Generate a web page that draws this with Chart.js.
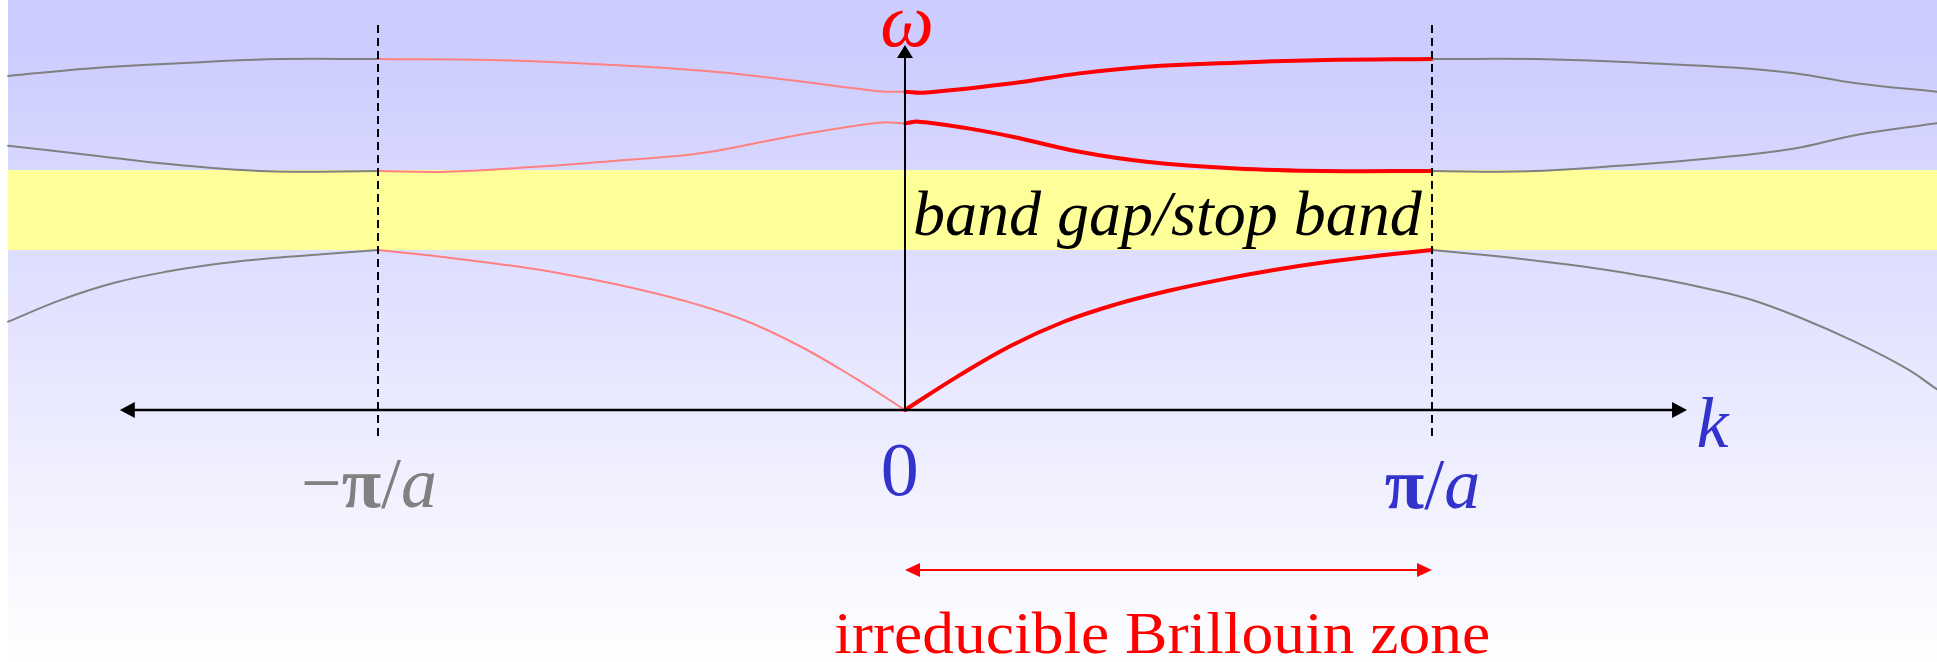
<!DOCTYPE html>
<html><head><meta charset="utf-8">
<script src="https://cdn.jsdelivr.net/npm/chart.js@4.4.1/dist/chart.umd.min.js"></script>
<style>html,body{margin:0;padding:0;background:#fff;overflow:hidden}canvas{display:block}</style>
</head><body>
<canvas id="c" width="1937" height="662" style="width:1937px;height:662px"></canvas>
<script>
// ---- Data (k in units of pi/a, omega in arbitrary units) ----
// Band 1 (lowest band)
const band1Red_k   = [0, 0.1, 0.2, 0.3, 0.4, 0.5, 0.6, 0.7, 0.8, 0.9, 1.0];
const band1Red_w   = [0, 0.21, 0.40, 0.55, 0.66, 0.745, 0.815, 0.875, 0.925, 0.965, 1.0];
const band1Pink_k  = [-1.0, -0.9, -0.8, -0.7, -0.6, -0.5, -0.4, -0.3, -0.2, -0.1, 0];
const band1Pink_w  = [1.0, 0.965, 0.925, 0.88, 0.82, 0.75, 0.665, 0.555, 0.40, 0.21, 0];
const band1GrayL_k = [-1.702, -1.6, -1.5, -1.4, -1.3, -1.2, -1.1, -1.0];
const band1GrayL_w = [0.552, 0.69, 0.795, 0.865, 0.915, 0.95, 0.975, 1.0];
const band1GrayR_k = [1.0, 1.1, 1.2, 1.3, 1.4, 1.5, 1.6, 1.7, 1.8, 1.9, 1.958];
const band1GrayR_w = [1.0, 0.968, 0.932, 0.89, 0.838, 0.775, 0.695, 0.575, 0.43, 0.26, 0.13];
// Band 2
const band2Red_k   = [0, 0.026, 0.12, 0.204, 0.331, 0.458, 0.628, 0.797, 1.0];
const band2Red_w   = [1.792, 1.802, 1.76, 1.708, 1.614, 1.552, 1.51, 1.494, 1.494];
const band2Pink_k  = [-1.0, -0.871, -0.701, -0.531, -0.389, -0.22, -0.05, 0];
const band2Pink_w  = [1.494, 1.489, 1.52, 1.5625, 1.604, 1.708, 1.796, 1.792];
const band2GrayL_k = [-1.702, -1.548, -1.378, -1.209, -1.0];
const band2GrayL_w = [1.652, 1.594, 1.531, 1.492, 1.494];
const band2GrayR_k = [1.0, 1.18, 1.375, 1.531, 1.688, 1.805, 1.958];
const band2GrayR_w = [1.494, 1.492, 1.531, 1.573, 1.635, 1.719, 1.792];
// Band 3
const band3Red_k   = [0, 0.035, 0.204, 0.331, 0.458, 0.628, 0.797, 1.0];
const band3Red_w   = [1.989, 1.983, 2.042, 2.104, 2.146, 2.171, 2.1875, 2.194];
const band3Pink_k  = [-1.0, -0.786, -0.617, -0.389, -0.22, -0.05, 0];
const band3Pink_w  = [2.194, 2.1875, 2.167, 2.122, 2.0625, 1.992, 1.989];
const band3GrayL_k = [-1.702, -1.548, -1.378, -1.209, -1.0];
const band3GrayL_w = [2.088, 2.135, 2.167, 2.192, 2.194];
const band3GrayR_k = [1.0, 1.218, 1.414, 1.570, 1.688, 1.805, 1.958];
const band3GrayR_w = [2.194, 2.192, 2.167, 2.14, 2.104, 2.042, 1.989];

// Band gap (omega range)
const gapRange = [1.0, 1.5];
// Tick labels on k axis
const tickK      = [-1, 0, 1];
const tickLabels = ['\u2212\u03C0/a', '0', '\u03C0/a'];
const tickColors = ['#808080', '#3333CC', '#3333CC'];
// Text labels
const omegaLabel = '\u03C9';
const kLabel = 'k';
const gapLabel = 'band gap/stop band';
const zoneLabel = 'irreducible Brillouin zone';

// ---- Chart ----
const SERIF = '"Liberation Serif","Times New Roman",serif';
function mk(ks, ws, color, width) {
  return {
    data: ks.map((k, i) => ({x: k, y: ws[i]})),
    showLine: true, borderColor: color, borderWidth: width,
    pointRadius: 0, pointHoverRadius: 0, fill: false,
    tension: 0.4,
    borderCapStyle: 'round', borderJoinStyle: 'round'
  };
}
const RED = '#FF0000', PINK = '#FF8080', GRAY = '#808080';
const datasets = [
  mk(band1GrayL_k, band1GrayL_w, GRAY, 2), mk(band1GrayR_k, band1GrayR_w, GRAY, 2),
  mk(band2GrayL_k, band2GrayL_w, GRAY, 2), mk(band2GrayR_k, band2GrayR_w, GRAY, 2),
  mk(band3GrayL_k, band3GrayL_w, GRAY, 2), mk(band3GrayR_k, band3GrayR_w, GRAY, 2),
  mk(band1Pink_k, band1Pink_w, PINK, 2), mk(band2Pink_k, band2Pink_w, PINK, 2), mk(band3Pink_k, band3Pink_w, PINK, 2),
  mk(band1Red_k, band1Red_w, RED, 4), mk(band2Red_k, band2Red_w, RED, 4), mk(band3Red_k, band3Red_w, RED, 4)
];

function arrowHead(ctx, x, y, dir, len, half, color) {
  ctx.save(); ctx.fillStyle = color; ctx.beginPath();
  if (dir === 'right') { ctx.moveTo(x, y); ctx.lineTo(x - len, y - half); ctx.lineTo(x - len, y + half); }
  else if (dir === 'left') { ctx.moveTo(x, y); ctx.lineTo(x + len, y - half); ctx.lineTo(x + len, y + half); }
  else if (dir === 'up') { ctx.moveTo(x, y); ctx.lineTo(x - half, y + len); ctx.lineTo(x + half, y + len); }
  ctx.closePath(); ctx.fill(); ctx.restore();
}
function drawMixed(ctx, text, cx, base, size, color) {
  const runs = [];
  for (const ch of text) runs.push({ch, f: /[a-zA-Z]/.test(ch) ? 'italic ' : (ch === '\u03C0' ? 'bold ' : '')});
  let total = 0;
  runs.forEach(r => { ctx.font = r.f + size + 'px ' + SERIF; r.w = ctx.measureText(r.ch).width; total += r.w; });
  let x = cx - total / 2;
  ctx.fillStyle = color; ctx.textBaseline = 'alphabetic'; ctx.textAlign = 'left';
  runs.forEach(r => { ctx.font = r.f + size + 'px ' + SERIF; ctx.fillText(r.ch, x, base); x += r.w; });
}
function drawFit(ctx, text, font, x0, base, width, color) {
  ctx.save(); ctx.font = font; ctx.fillStyle = color; ctx.textAlign = 'left'; ctx.textBaseline = 'alphabetic';
  const w = ctx.measureText(text).width; const s = width / w;
  ctx.translate(x0, base); ctx.scale(s, 1); ctx.fillText(text, 0, 0); ctx.restore();
}

const decor = {
  id: 'decor',
  beforeDatasetsDraw(chart) {
    const {ctx, width, height} = chart; const ys = chart.scales.y;
    ctx.save();
    ctx.fillStyle = '#ffffff'; ctx.fillRect(0, 0, width, height);
    const g = ctx.createLinearGradient(0, 40, 0, height);
    g.addColorStop(0, 'rgb(204,204,255)'); g.addColorStop(1, 'rgb(255,255,255)');
    ctx.fillStyle = g; ctx.fillRect(8, 0, width - 8, height);
    const yT = ys.getPixelForValue(gapRange[1]), yB = ys.getPixelForValue(gapRange[0]);
    ctx.fillStyle = '#FFFF99'; ctx.fillRect(8, yT, width - 8, yB - yT);
    ctx.restore();
  },
  afterDatasetsDraw(chart) {
    const {ctx} = chart; const xs = chart.scales.x, ys = chart.scales.y;
    const X = v => xs.getPixelForValue(v), Y = v => ys.getPixelForValue(v);
    ctx.save();
    // dashed zone-boundary lines
    ctx.strokeStyle = '#000'; ctx.lineWidth = 2; ctx.setLineDash([8, 5]);
    [-1, 1].forEach(k => { ctx.beginPath(); ctx.moveTo(X(k), Y(2.406)); ctx.lineTo(X(k), Y(-0.175)); ctx.stroke(); });
    ctx.setLineDash([]);
    // k axis
    const y0 = Y(0), xl = X(-1.49), xr = X(1.484);
    ctx.lineWidth = 2.5; ctx.beginPath(); ctx.moveTo(xl + 10, y0); ctx.lineTo(xr - 10, y0); ctx.stroke();
    arrowHead(ctx, xl, y0, 'left', 15, 8, '#000'); arrowHead(ctx, xr, y0, 'right', 15, 8, '#000');
    // omega axis
    const x0 = X(0), yt = Y(2.281);
    ctx.lineWidth = 2; ctx.beginPath(); ctx.moveTo(x0, y0); ctx.lineTo(x0, yt + 10); ctx.stroke();
    arrowHead(ctx, x0, yt, 'up', 13, 8, '#000');
    // irreducible zone arrow
    const ya = Y(-1.0), xa = X(0), xb = X(1);
    ctx.strokeStyle = RED; ctx.lineWidth = 2; ctx.beginPath(); ctx.moveTo(xa + 8, ya); ctx.lineTo(xb - 8, ya); ctx.stroke();
    arrowHead(ctx, xa, ya, 'left', 15, 7, RED); arrowHead(ctx, xb, ya, 'right', 15, 7, RED);
    // labels
    ctx.font = 'italic 76px ' + SERIF; ctx.fillStyle = RED; ctx.textAlign = 'center'; ctx.textBaseline = 'alphabetic';
    ctx.fillText(omegaLabel, X(0.004), Y(2.275));
    ctx.font = 'italic 72px ' + SERIF; ctx.fillStyle = '#3333CC'; ctx.textAlign = 'left';
    ctx.fillText(kLabel, X(1.502), Y(-0.231));
    const tickCx = [-1.017, -0.01, 1.001], tickBase = [-0.606, -0.531, -0.6125], tickSize = [72, 76, 72];
    tickK.forEach((k, i) => drawMixed(ctx, tickLabels[i], X(tickCx[i]), Y(tickBase[i]), tickSize[i], tickColors[i]));
    drawFit(ctx, gapLabel, 'italic 64px ' + SERIF, X(0.015), Y(1.094), 509, '#000');
    const zw = 656; drawFit(ctx, zoneLabel, '60px ' + SERIF, X(0.488) - zw / 2, Y(-1.519), zw, RED);
    ctx.restore();
  }
};

new Chart(document.getElementById('c'), {
  type: 'scatter',
  data: {datasets},
  options: {
    responsive: false, animation: false, devicePixelRatio: 1,
    layout: {padding: 0},
    plugins: {legend: {display: false}, tooltip: {enabled: false}},
    scales: {
      x: {type: 'linear', min: -1.7173, max: 1.9583, display: false},
      y: {type: 'linear', min: -1.575, max: 2.5625, display: false}
    }
  },
  plugins: [decor]
});
</script>
</body></html>
